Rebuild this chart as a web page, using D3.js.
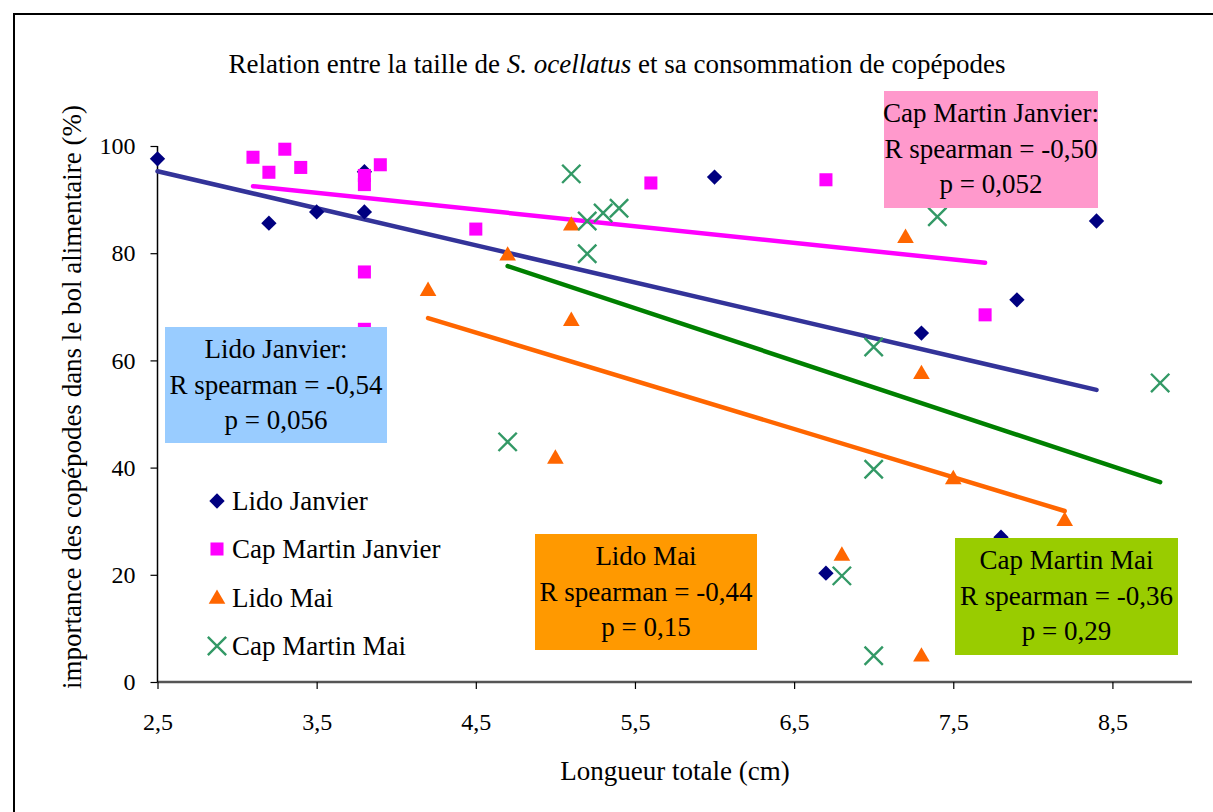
<!DOCTYPE html>
<html><head><meta charset="utf-8">
<script src="https://cdn.jsdelivr.net/npm/d3@7"></script>
<style>
html,body{margin:0;padding:0;background:#fff;}
svg text{font-family:"Liberation Serif","Times New Roman",serif !important;fill:#000;}
</style></head>
<body>
<svg id="chart" width="1213" height="812"></svg>
<script>
// ---- data ----
const seriesNames = ["Lido Janvier", "Cap Martin Janvier", "Lido Mai", "Cap Martin Mai"];
const lidoJanvierX = [2.5, 3.2, 3.5, 3.8, 3.8, 6.0, 7.3, 7.8, 7.9, 8.4, 6.7];
const lidoJanvierY = [97.6, 85.6, 87.7, 87.7, 95.2, 94.2, 65.1, 27.0, 71.3, 86.0, 20.3];
const capJanvierX = [3.1, 3.2, 3.3, 3.4, 3.8, 3.8, 3.9, 3.8, 3.8, 4.5, 5.6, 6.7, 7.7];
const capJanvierY = [97.9, 95.1, 99.4, 96.0, 94.5, 92.8, 96.5, 76.5, 65.8, 84.5, 93.1, 93.7, 68.5];
const lidoMaiX = [4.2, 4.7, 5.1, 5.1, 5.0, 7.2, 7.3, 7.5, 6.8, 7.3, 8.2];
const lidoMaiY = [73.1, 79.7, 85.3, 67.5, 41.8, 83.0, 57.6, 38.0, 23.7, 4.9, 30.2];
const capMaiX = [5.1, 5.2, 5.3, 5.4, 5.2, 4.7, 7.0, 7.0, 6.8, 7.0, 7.4, 8.8];
const capMaiY = [94.8, 86.0, 87.5, 88.4, 79.9, 44.8, 62.5, 39.7, 19.8, 4.9, 86.8, 55.8];
// trend line endpoints [x0, y0, x1, y1]
const trendLidoJanvier = [2.5, 95.3, 8.4, 54.5];
const trendCapJanvier = [3.1, 92.5, 7.7, 78.2];
const trendLidoMai = [4.2, 67.9, 8.2, 31.9];
const trendCapMai = [4.7, 77.6, 8.8, 37.3];
const xTicks = [2.5, 3.5, 4.5, 5.5, 6.5, 7.5, 8.5];
const yTicks = [0, 20, 40, 60, 80, 100];
const boxTexts = [
  ["Cap Martin Janvier:", "R spearman = -0,50", "p = 0,052"],
  ["Lido Janvier:", "R spearman = -0,54", "p = 0,056"],
  ["Lido Mai", "R spearman = -0,44", "p = 0,15"],
  ["Cap Martin Mai", "R spearman = -0,36", "p = 0,29"]
];

// ---- layout ----
const svg = d3.select("#chart");
const x = d3.scaleLinear().domain([2.5, 9.0]).range([157.5, 1192]);
const y = d3.scaleLinear().domain([0, 100]).range([682, 146]);

const markerColors = ["#000080", "#FF00FF", "#FF6600", "#339966"];
const lineColors = ["#333399", "#FF00FF", "#FF6600", "#008000"];
const boxColors = ["#FF99CC", "#99CCFF", "#FF9900", "#99CC00"];
const FONT = "Liberation Serif";

// outer frame
svg.append("rect").attr("x", 14).attr("y", 14).attr("width", 1240).attr("height", 840)
  .attr("fill", "none").attr("stroke", "#000").attr("stroke-width", 2);

// title
const title = svg.append("text").attr("x", 617).attr("y", 73).attr("text-anchor", "middle")
  .style("font-size", "27px").style("font-family", FONT);
title.append("tspan").text("Relation entre la taille de ");
title.append("tspan").style("font-style", "italic").text("S. ocellatus");
title.append("tspan").text(" et sa consommation de copépodes");

// axes
const xAxis = d3.axisBottom(x).tickValues(xTicks).tickSize(7)
  .tickFormat(d => d3.format(".1f")(d).replace(".", ","));
const gx = svg.append("g").attr("transform", "translate(0,682)").call(xAxis);
gx.attr("font-family", FONT);
gx.select(".domain").attr("stroke", "#555").attr("stroke-width", 2.5)
  .attr("d", "M157.5,0H1192");
gx.selectAll(".tick line").attr("stroke", "#000").attr("stroke-width", 1.2);
gx.selectAll(".tick text").attr("dy", null).attr("y", 48).style("font-size", "24px")
  .style("font-family", FONT);

const yAxis = d3.axisLeft(y).tickValues(yTicks).tickSize(7);
const gy = svg.append("g").attr("transform", "translate(157.5,0)").call(yAxis);
gy.attr("font-family", FONT);
gy.select(".domain").attr("stroke", "#000").attr("stroke-width", 1.5).attr("d", "M0,146V682");
gy.selectAll(".tick line").attr("stroke", "#000").attr("stroke-width", 1.2);
gy.selectAll(".tick text").attr("x", -22).style("font-size", "24px")
  .style("font-family", FONT);

// axis titles
svg.append("text").attr("x", 675).attr("y", 780).attr("text-anchor", "middle")
  .style("font-size", "27px").style("font-family", FONT).text("Longueur totale (cm)");
svg.append("text").attr("transform", "translate(81,397) rotate(-90)").attr("text-anchor", "middle")
  .style("font-size", "27px").style("font-family", FONT)
  .text("importance des copépodes dans le bol alimentaire (%)");

// trend lines
const trends = [trendLidoJanvier, trendCapJanvier, trendLidoMai, trendCapMai];
trends.forEach((t, i) => {
  svg.append("line").attr("x1", x(t[0])).attr("y1", y(t[1])).attr("x2", x(t[2])).attr("y2", y(t[3]))
    .attr("stroke", lineColors[i]).attr("stroke-width", 4.5).attr("stroke-linecap", "round");
});

// markers
const diamond = d3.symbol().type(d3.symbolDiamond2).size(150);
const square = d3.symbol().type(d3.symbolSquare).size(170);
const tri = d3.symbol().type(d3.symbolTriangle).size(120);
const cross = d3.symbol().type(d3.symbolTimes).size(220);

function drawMarker(g, kind, cx, cy) {
  if (kind === 0) g.append("path").attr("d", diamond()).attr("transform", `translate(${cx},${cy})`).attr("fill", markerColors[0]);
  if (kind === 1) g.append("path").attr("d", square()).attr("transform", `translate(${cx},${cy})`).attr("fill", markerColors[1]);
  if (kind === 2) g.append("path").attr("d", tri()).attr("transform", `translate(${cx},${cy + 1})`).attr("fill", markerColors[2]);
  if (kind === 3) g.append("path").attr("d", cross()).attr("transform", `translate(${cx},${cy})`)
    .attr("fill", "none").attr("stroke", markerColors[3]).attr("stroke-width", 2.4);
}
const allX = [lidoJanvierX, capJanvierX, lidoMaiX, capMaiX];
const allY = [lidoJanvierY, capJanvierY, lidoMaiY, capMaiY];
const gm = svg.append("g");
allX.forEach((xs, k) => xs.forEach((v, j) => drawMarker(gm, k, x(v), y(allY[k][j]))));

// legend
const legY = [501, 549, 598, 646];
seriesNames.forEach((n, i) => {
  drawMarker(svg, i, 217, legY[i]);
  svg.append("text").attr("x", 232).attr("y", legY[i]).attr("dy", "0.35em")
    .style("font-size", "27px").style("font-family", FONT).text(n);
});

// annotation boxes
const boxes = [
  {x0: 884, y0: 91, x1: 1098, y1: 208},
  {x0: 165, y0: 327, x1: 387, y1: 443},
  {x0: 535, y0: 534, x1: 757, y1: 650},
  {x0: 955, y0: 538, x1: 1178, y1: 655}
];
boxes.forEach((b, i) => {
  svg.append("rect").attr("x", b.x0).attr("y", b.y0).attr("width", b.x1 - b.x0).attr("height", b.y1 - b.y0)
    .attr("fill", boxColors[i]);
  const cx = (b.x0 + b.x1) / 2;
  boxTexts[i].forEach((t, j) => {
    svg.append("text").attr("x", cx).attr("y", b.y0 + 22 + j * 35.5).attr("dy", "0.35em")
      .attr("text-anchor", "middle").style("font-size", "27px").style("font-family", FONT).text(t);
  });
});
</script>
</body></html>
